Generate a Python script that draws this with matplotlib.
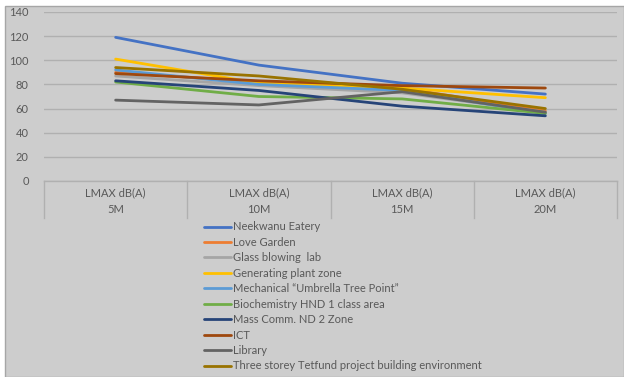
import matplotlib.pyplot as plt
from matplotlib.patches import Rectangle
from matplotlib.transforms import blended_transform_factory

plt.rcParams["font.family"] = ["Lato", "DejaVu Sans"]

# noise levels (LMAX dB(A)) at each distance from the source
distances = ["5M", "10M", "15M", "20M"]
metric = "LMAX dB(A)"

neekwanu = [119, 96, 81, 72]
love_garden = [90, 82, 77, 58]
glass_lab = [87, 79, 73, 57]
generating_plant = [101, 81, 77, 69]
mechanical = [92, 80, 75, 56]
biochemistry = [82, 70, 68, 56]
mass_comm = [83, 75, 62, 54]
ict = [89, 83, 79, 77]
library = [67, 63, 74, 57]
three_storey = [94, 87, 76, 60]

series = [
    ("Neekwanu Eatery", neekwanu, "#4472C4"),
    ("Love Garden", love_garden, "#ED7D31"),
    ("Glass blowing  lab", glass_lab, "#A5A5A5"),
    ("Generating plant zone", generating_plant, "#FFC000"),
    ("Mechanical \u201cUmbrella Tree Point\u201d", mechanical, "#5B9BD5"),
    ("Biochemistry HND 1 class area", biochemistry, "#70AD47"),
    ("Mass Comm. ND 2 Zone", mass_comm, "#264478"),
    ("ICT", ict, "#9E480E"),
    ("Library", library, "#636363"),
    ("Three storey Tetfund project building environment", three_storey, "#997300"),
]

W, H = 624, 377
BG = "#cdcdcd"
GRID = "#b0b0b0"
TXT = "#595959"
FS = 8

fig = plt.figure(figsize=(W / 100, H / 100), dpi=100)
fig.patch.set_facecolor("white")
# chart area panel with its thin border
fig.patches.append(Rectangle((5 / W, 0), 1 - 5 / W, 1 - 6 / H, transform=fig.transFigure,
                             facecolor=BG, edgecolor="#a6a6a6", linewidth=1.0, zorder=-1))

ax = fig.add_axes([44 / W, 1 - 181 / H, (617 - 44) / W, (181 - 12) / H])
ax.set_facecolor(BG)

x = list(range(len(distances)))
for name, vals, color in series:
    ax.plot(x, vals, color=color, linewidth=2.0, label=name, solid_capstyle="round")

ax.set_xlim(-0.5, len(distances) - 0.5)
ax.set_ylim(0, 140)
ax.set_yticks(range(0, 141, 20))
ax.yaxis.grid(True, color=GRID, linewidth=1.0)
ax.set_axisbelow(True)
ax.tick_params(axis="y", length=0, pad=11, labelsize=FS, labelcolor=TXT)
ax.tick_params(axis="x", length=0, labelbottom=False)
for sp in ax.spines.values():
    sp.set_visible(False)

# two-level category table under the x axis
tr = blended_transform_factory(ax.transData, ax.transAxes)
px = 1 / (181 - 12)
ax.plot([-0.5, len(distances) - 0.5], [0, 0], color=GRID, linewidth=1.0,
        transform=tr, clip_on=False)
for b in [i - 0.5 for i in range(len(distances) + 1)]:
    ax.plot([b, b], [0, -37 * px], color=GRID, linewidth=1.0,
            transform=tr, clip_on=False)
for i, d in enumerate(distances):
    ax.text(i, -12 * px, metric, transform=tr, ha="center", va="center",
            fontsize=FS, color=TXT)
    ax.text(i, -29 * px, d, transform=tr, ha="center", va="center",
            fontsize=FS, color=TXT)

leg = fig.legend(loc="upper left", bbox_to_anchor=(200 / W, 1 - 217 / H),
                 frameon=False, fontsize=FS, handlelength=2.4,
                 handletextpad=0.2, labelspacing=0.4, borderaxespad=0)
for t in leg.get_texts():
    t.set_color(TXT)

fig.savefig("out.png", dpi=100, facecolor=fig.get_facecolor())
